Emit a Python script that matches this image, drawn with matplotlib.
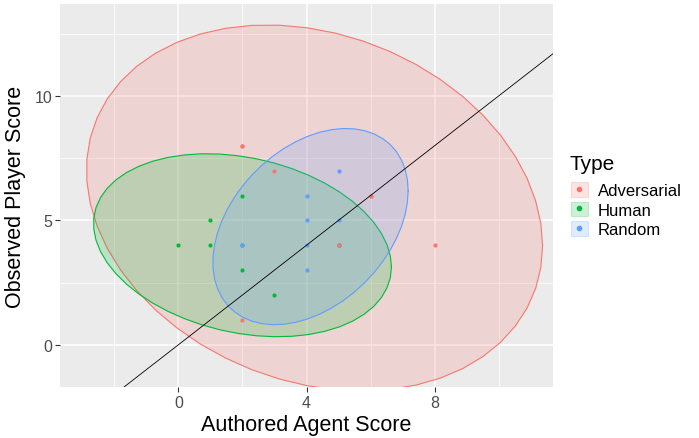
import numpy as np
import matplotlib
matplotlib.use("Agg")
import matplotlib.pyplot as plt
from matplotlib.patches import Polygon, Patch
from matplotlib.lines import Line2D

plt.rcParams['font.family'] = ['Liberation Sans', 'DejaVu Sans']

# scores per group
types = ["Adversarial", "Human", "Random"]
colors = {"Adversarial": "#F8766D", "Human": "#00BA38", "Random": "#619CFF"}

authored = {
    "Adversarial": [2, 3, 6, 5, 8, 2, 2, 6],
    "Human": [0, 1, 1, 2, 2, 3, 2, 5],
    "Random": [2, 4, 4, 4, 4, 5, 5, 5],
}
observed = {
    "Adversarial": [8, 7, 6, 4, 4, 1, 8, 6],
    "Human": [4, 5, 4, 6, 3, 2, 4, 4],
    "Random": [4, 6, 5, 4, 3, 7, 5, 4],
}


def norm_ellipse(xs, ys, level=0.95, segments=51):
    # 95% ellipse from the sample covariance, F-based radius
    pts = np.column_stack([xs, ys]).astype(float)
    center = pts.mean(axis=0)
    shape = np.cov(pts.T)
    dfd = len(xs) - 1
    fq = dfd / 2 * ((1 - level) ** (-2 / dfd) - 1)  # qf(level, 2, dfd)
    radius = np.sqrt(2 * fq)
    ang = np.arange(segments + 1) * 2 * np.pi / segments
    circle = np.column_stack([np.cos(ang), np.sin(ang)])
    L = np.linalg.cholesky(shape)
    return center + radius * circle @ L.T


fig = plt.figure(figsize=(6.99, 4.39), dpi=100)
ax = fig.add_axes([60 / 699, 1 - 388 / 439, 493 / 699, 383 / 439])
ax.set_facecolor("#EBEBEB")

for t in types:
    ell = norm_ellipse(authored[t], observed[t])
    ax.add_patch(Polygon(ell, closed=True, facecolor=colors[t], alpha=0.2,
                         edgecolor="none", zorder=2))
    ax.plot(ell[:, 0], ell[:, 1], color=colors[t], lw=0.8, zorder=2)

for t in ["Human", "Random", "Adversarial"]:
    ax.scatter(authored[t], observed[t], s=9, color=colors[t], zorder=3, linewidths=0)

ax.axline((0, 0), slope=1, color="black", lw=0.6, zorder=4)

# limits -3..11 and -1..13 with 5% padding
ax.set_xlim(-3 - 0.7, 11 + 0.7)
ax.set_ylim(-1 - 0.7, 13 + 0.7)
ax.set_xticks([0, 4, 8])
ax.set_yticks([0, 5, 10])
ax.set_xticks([-2, 2, 6, 10], minor=True)
ax.set_yticks([2.5, 7.5, 12.5], minor=True)
ax.grid(which="major", color="white", lw=1.1, zorder=0)
ax.grid(which="minor", color="white", lw=0.55, zorder=0)
ax.set_axisbelow(True)
for sp in ax.spines.values():
    sp.set_visible(False)
ax.tick_params(which="major", length=3.5, width=0.8, color="#333333",
               labelsize=11.5, labelcolor="#4D4D4D", pad=2)
ax.tick_params(which="minor", length=0)

ax.set_xlabel("Authored Agent Score", fontsize=15.5, labelpad=3)
ax.set_ylabel("Observed Player Score", fontsize=15.5, labelpad=6)

# legend: title as separate text, keys = shaded square + dot
fig.text(570 / 699, 1 - 165 / 439, "Type", fontsize=15, va="center", ha="left")
handles = [(Patch(facecolor=colors[t], alpha=0.2, edgecolor=colors[t], lw=0.8),
            Line2D([], [], ls="none", marker="o", ms=3, color=colors[t]))
           for t in types]
fig.legend(handles, types, loc="upper left", bbox_to_anchor=(571 / 699, 1 - 183 / 439),
           frameon=False, fontsize=12, borderpad=0, borderaxespad=0,
           handlelength=1.0, handleheight=1.0, handletextpad=0.6,
           labelspacing=0.2)

fig.savefig("out.png", dpi=100)
